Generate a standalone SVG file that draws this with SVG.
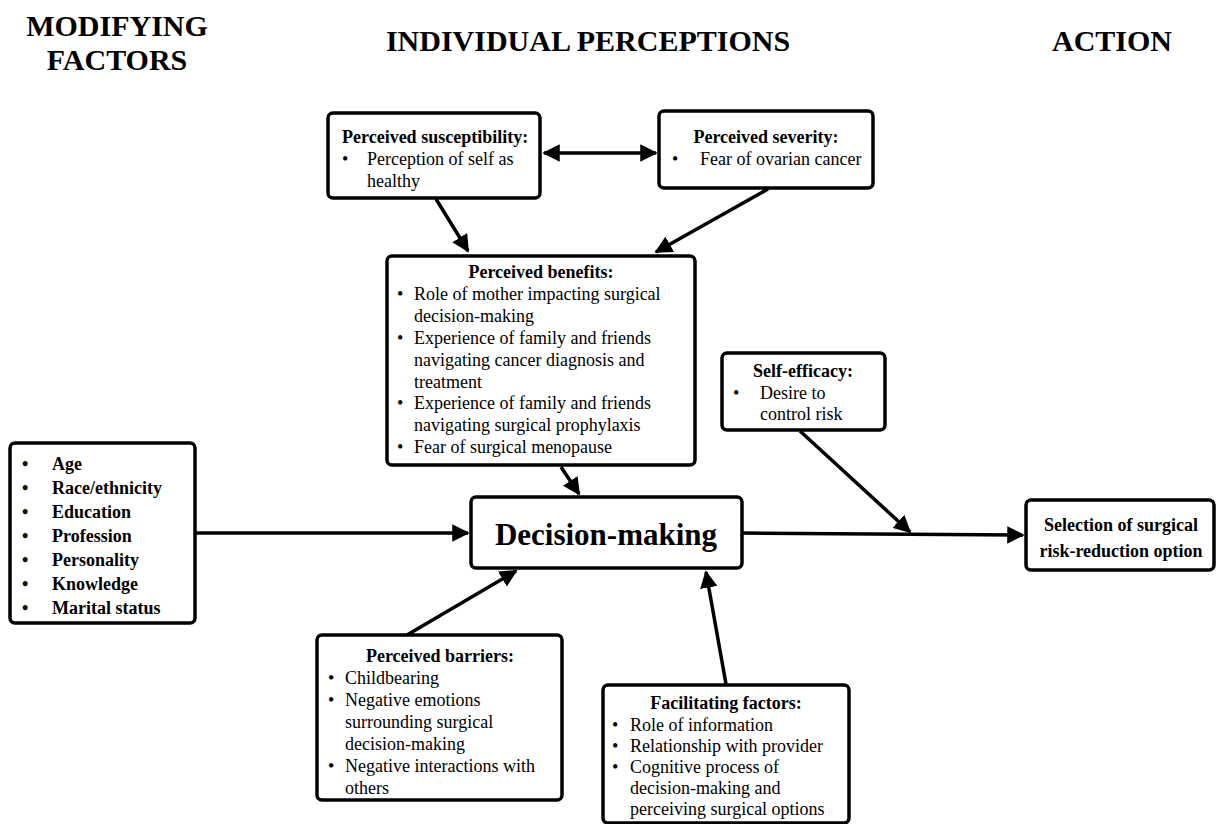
<svg xmlns="http://www.w3.org/2000/svg" width="1216" height="824" viewBox="0 0 1216 824">
<defs>
<marker id="ah" viewBox="0 0 10 10" refX="9" refY="5" markerWidth="5" markerHeight="5" orient="auto-start-reverse" markerUnits="strokeWidth">
<path d="M0,0 L10,5 L0,10 z" fill="#000"/>
</marker>
<style>
.box{fill:#fff;stroke:#000;stroke-width:3.5}
text{font-family:"Liberation Serif","Times New Roman",serif;fill:#000}
.t{font-size:18px}
.b{font-weight:bold}
.h{font-size:30px;font-weight:bold}
.c{text-anchor:middle}
.ln{stroke:#000;stroke-width:3.5;fill:none;marker-end:url(#ah)}
</style>
</defs>
<rect width="1216" height="824" fill="#fff"/>
<g id="headers">
<text class="h c" x="117" y="36">MODIFYING</text>
<text class="h c" x="117" y="70">FACTORS</text>
<text class="h c" x="588" y="51">INDIVIDUAL PERCEPTIONS</text>
<text class="h c" x="1112" y="51">ACTION</text>
</g>
<g id="connectors">
<line class="ln" x1="544" y1="153" x2="656" y2="153" style="marker-start:url(#ah)"/>
<line class="ln" x1="436" y1="199" x2="468" y2="251"/>
<line class="ln" x1="768" y1="189" x2="656" y2="252"/>
<line class="ln" x1="561" y1="467" x2="579" y2="494"/>
<line class="ln" x1="196" y1="533" x2="468" y2="533"/>
<line class="ln" x1="742" y1="533" x2="1023" y2="535"/>
<line class="ln" x1="800" y1="431" x2="910" y2="532"/>
<line class="ln" x1="407" y1="635" x2="516" y2="571"/>
<line class="ln" x1="726" y1="684" x2="706" y2="572"/>
</g>
<g id="susceptibility">
<rect class="box" x="328" y="113" width="212" height="85" rx="5"/>
<text class="t b" x="342" y="143">Perceived susceptibility:</text>
<text class="t" x="342" y="165">•</text>
<text class="t" x="367" y="165">Perception of self as</text>
<text class="t" x="367" y="187">healthy</text>
</g>
<g id="severity">
<rect class="box" x="659" y="111" width="214" height="77" rx="5"/>
<text class="t b c" x="766" y="143">Perceived severity:</text>
<text class="t" x="672" y="165">•</text>
<text class="t" x="700" y="165">Fear of ovarian cancer</text>
</g>
<g id="benefits">
<rect class="box" x="387" y="256" width="308" height="209" rx="5"/>
<text class="t b c" x="541" y="278">Perceived benefits:</text>
<text class="t" x="397" y="300">•</text>
<text class="t" x="414" y="300">Role of mother impacting surgical</text>
<text class="t" x="414" y="322">decision-making</text>
<text class="t" x="397" y="344">•</text>
<text class="t" x="414" y="344">Experience of family and friends</text>
<text class="t" x="414" y="366">navigating cancer diagnosis and</text>
<text class="t" x="414" y="388">treatment</text>
<text class="t" x="397" y="409">•</text>
<text class="t" x="414" y="409">Experience of family and friends</text>
<text class="t" x="414" y="431">navigating surgical prophylaxis</text>
<text class="t" x="397" y="453">•</text>
<text class="t" x="414" y="453">Fear of surgical menopause</text>
</g>
<g id="self-efficacy">
<rect class="box" x="722" y="353" width="163" height="77" rx="5"/>
<text class="t b c" x="803" y="377">Self-efficacy:</text>
<text class="t" x="733" y="399">•</text>
<text class="t" x="760" y="399">Desire to</text>
<text class="t" x="760" y="420">control risk</text>
</g>
<g id="modifying">
<rect class="box" x="10" y="443" width="185" height="180" rx="5"/>
<text class="t b" x="22" y="470">•</text><text class="t b" x="52" y="470">Age</text>
<text class="t b" x="22" y="494">•</text><text class="t b" x="52" y="494">Race/ethnicity</text>
<text class="t b" x="22" y="518">•</text><text class="t b" x="52" y="518">Education</text>
<text class="t b" x="22" y="542">•</text><text class="t b" x="52" y="542">Profession</text>
<text class="t b" x="22" y="566">•</text><text class="t b" x="52" y="566">Personality</text>
<text class="t b" x="22" y="590">•</text><text class="t b" x="52" y="590">Knowledge</text>
<text class="t b" x="22" y="614">•</text><text class="t b" x="52" y="614">Marital status</text>
</g>
<g id="decision">
<rect class="box" x="471" y="497" width="271" height="71" rx="5"/>
<text class="b c" style="font-size:31px" x="606" y="545">Decision-making</text>
</g>
<g id="selection">
<rect class="box" x="1026" y="500" width="188" height="70" rx="5"/>
<text class="t b c" x="1121" y="531">Selection of surgical</text>
<text class="t b c" x="1121" y="557">risk-reduction option</text>
</g>
<g id="barriers">
<rect class="box" x="317" y="635" width="245" height="165" rx="5"/>
<text class="t b c" x="440" y="662">Perceived barriers:</text>
<text class="t" x="328" y="684">•</text><text class="t" x="345" y="684">Childbearing</text>
<text class="t" x="328" y="706">•</text><text class="t" x="345" y="706">Negative emotions</text>
<text class="t" x="345" y="728">surrounding surgical</text>
<text class="t" x="345" y="750">decision-making</text>
<text class="t" x="328" y="772">•</text><text class="t" x="345" y="772">Negative interactions with</text>
<text class="t" x="345" y="794">others</text>
</g>
<g id="facilitating">
<rect class="box" x="603" y="685" width="246" height="138" rx="5"/>
<text class="t b c" x="726" y="709">Facilitating factors:</text>
<text class="t" x="612" y="731">•</text><text class="t" x="630" y="731">Role of information</text>
<text class="t" x="612" y="752">•</text><text class="t" x="630" y="752">Relationship with provider</text>
<text class="t" x="612" y="773">•</text><text class="t" x="630" y="773">Cognitive process of</text>
<text class="t" x="630" y="794">decision-making and</text>
<text class="t" x="630" y="815">perceiving surgical options</text>
</g>
</svg>
